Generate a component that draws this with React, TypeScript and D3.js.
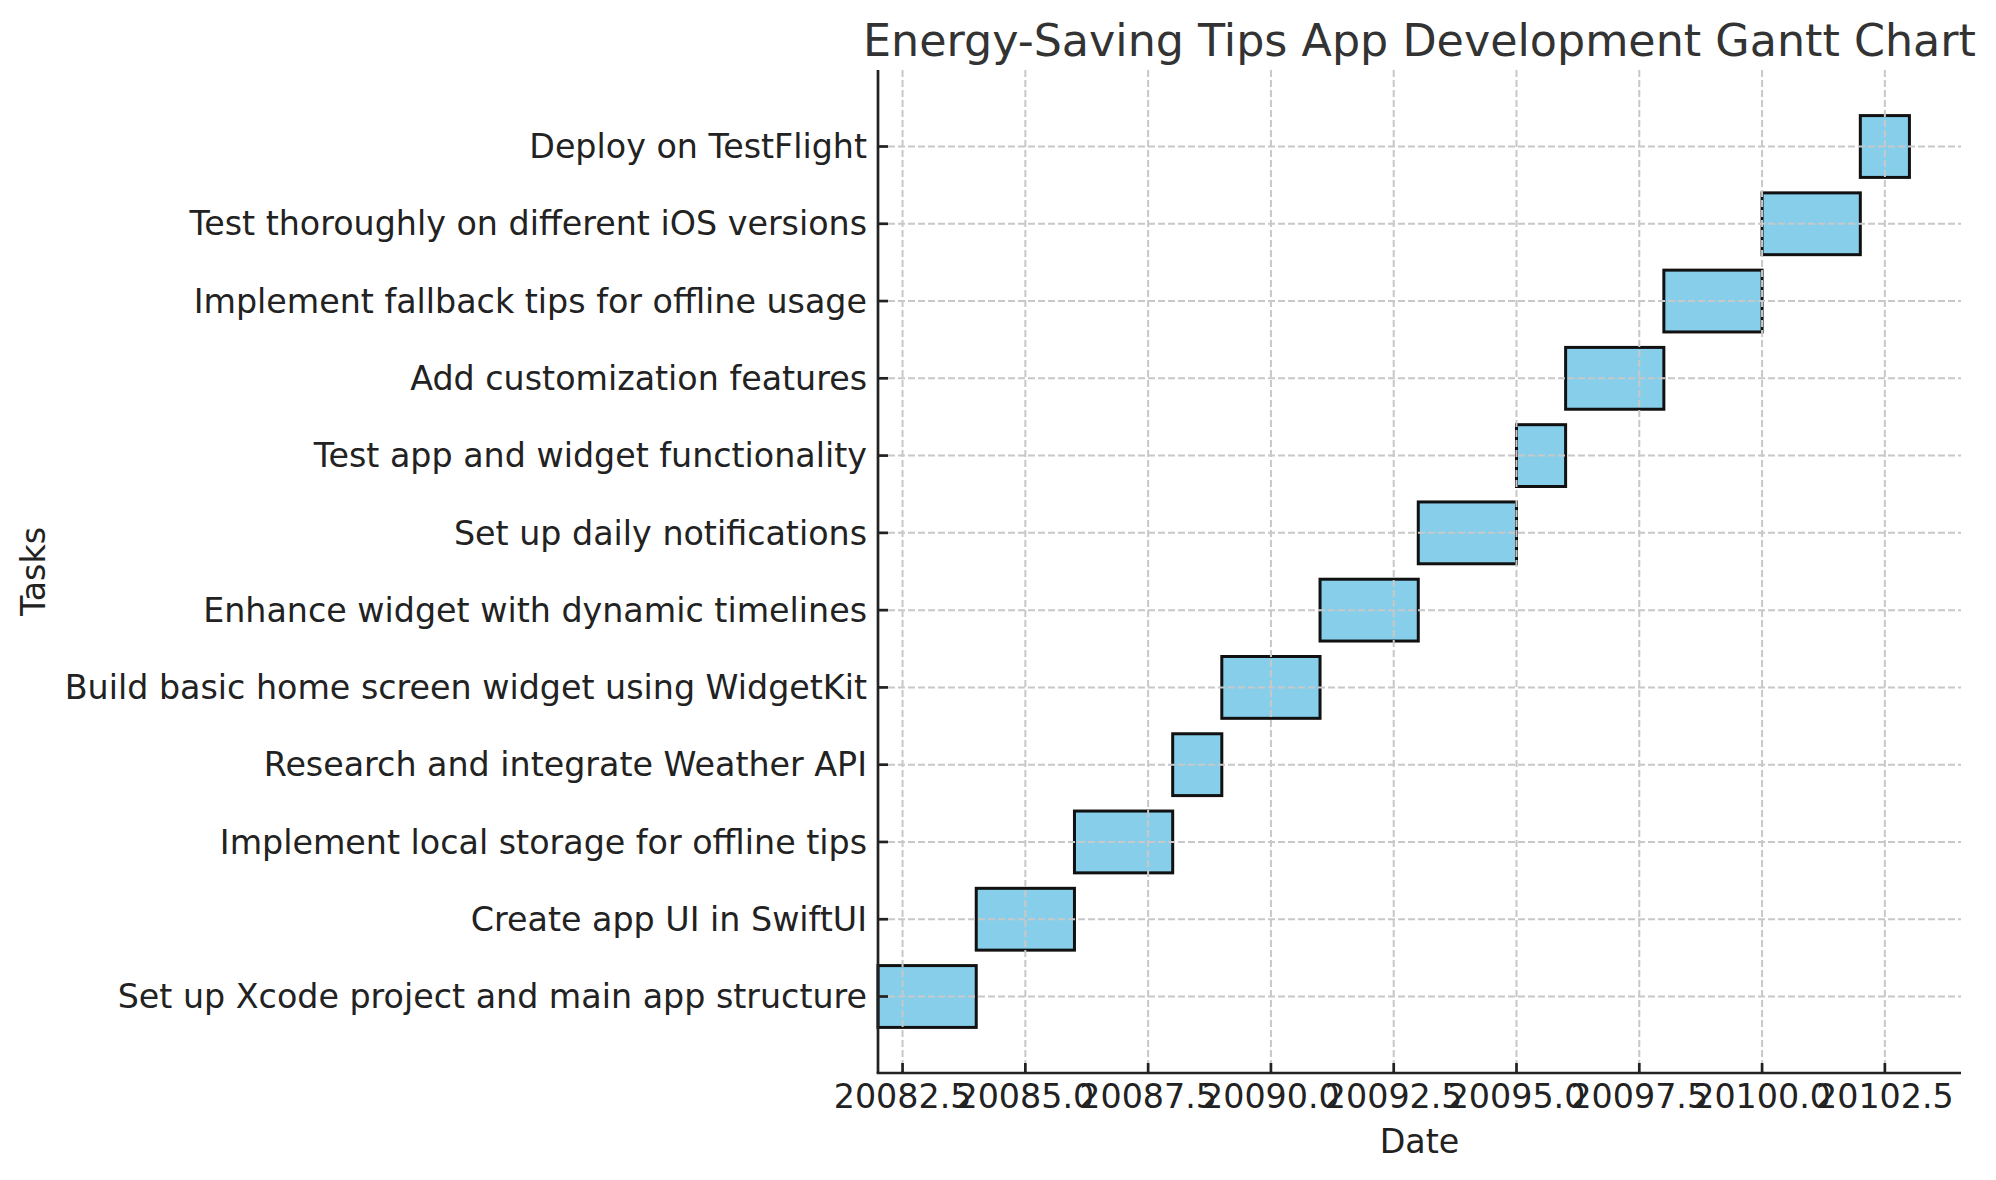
import * as d3 from "d3";

const tasks = [
  "Set up Xcode project and main app structure",
  "Create app UI in SwiftUI",
  "Implement local storage for offline tips",
  "Research and integrate Weather API",
  "Build basic home screen widget using WidgetKit",
  "Enhance widget with dynamic timelines",
  "Set up daily notifications",
  "Test app and widget functionality",
  "Add customization features",
  "Implement fallback tips for offline usage",
  "Test thoroughly on different iOS versions",
  "Deploy on TestFlight",
];
const starts = [20082, 20084, 20086, 20088, 20089, 20091, 20093, 20095, 20096, 20098, 20100, 20102];
const durations = [2, 2, 2, 1, 2, 2, 2, 1, 2, 2, 2, 1];
const xTicks = [20082.5, 20085, 20087.5, 20090, 20092.5, 20095, 20097.5, 20100, 20102.5];

const W = 1996;
const H = 1180;
const margin = { top: 70, right: 35, bottom: 107, left: 878 };
const font = "'DejaVu Sans', sans-serif";
const textColor = "#222222";

export default function App() {
  const x = d3
    .scaleLinear()
    .domain([20082, 20104.05])
    .range([margin.left, W - margin.right]);
  const y = d3
    .scaleLinear()
    .domain([-0.99, 11.99])
    .range([H - margin.bottom, margin.top]);

  const barH = y(0) - y(0.8);
  const rows = d3.range(tasks.length);

  return (
    <svg
      width={W}
      height={H}
      style={{ position: "absolute", left: 0, top: 0, background: "#fff" }}
      fontFamily={font}
    >
      {/* bars */}
      {rows.map((i) => (
        <rect
          key={i}
          x={x(starts[i])}
          y={y(i + 0.4)}
          width={x(starts[i] + durations[i]) - x(starts[i])}
          height={barH}
          fill="#87CEEB"
          stroke="#111"
          strokeWidth={3}
        />
      ))}

      {/* grid (drawn over bars) */}
      {xTicks.map((t) => (
        <line
          key={"gx" + t}
          x1={x(t)}
          x2={x(t)}
          y1={margin.top}
          y2={H - margin.bottom}
          stroke="#c8c8c8"
          strokeWidth={2}
          strokeDasharray="7,3"
        />
      ))}
      {rows.map((i) => (
        <line
          key={"gy" + i}
          x1={margin.left}
          x2={W - margin.right}
          y1={y(i)}
          y2={y(i)}
          stroke="#c8c8c8"
          strokeWidth={2}
          strokeDasharray="7,3"
        />
      ))}

      {/* spines */}
      <line
        x1={margin.left}
        x2={margin.left}
        y1={margin.top}
        y2={H - margin.bottom}
        stroke="#222"
        strokeWidth={2.7}
      />
      <line
        x1={margin.left - 1.35}
        x2={W - margin.right}
        y1={H - margin.bottom}
        y2={H - margin.bottom}
        stroke="#222"
        strokeWidth={2.7}
      />

      {/* x ticks */}
      {xTicks.map((t) => (
        <g key={"xt" + t}>
          <line
            x1={x(t)}
            x2={x(t)}
            y1={H - margin.bottom}
            y2={H - margin.bottom - 10}
            stroke="#222"
            strokeWidth={2.7}
          />
          <text
            x={x(t)}
            y={H - margin.bottom + 35}
            textAnchor="middle"
            fontSize={33.3}
            fill={textColor}
          >
            {t.toFixed(1)}
          </text>
        </g>
      ))}

      {/* y ticks */}
      {rows.map((i) => (
        <g key={"yt" + i}>
          <line
            x1={margin.left}
            x2={margin.left + 10}
            y1={y(i)}
            y2={y(i)}
            stroke="#222"
            strokeWidth={2.7}
          />
          <text
            x={margin.left - 11}
            y={y(i)}
            dy="0.35em"
            textAnchor="end"
            fontSize={33.3}
            fill={textColor}
          >
            {tasks[i]}
          </text>
        </g>
      ))}

      {/* axis labels */}
      <text
        x={(margin.left + W - margin.right) / 2}
        y={1153}
        textAnchor="middle"
        fontSize={33.3}
        fill={textColor}
      >
        Date
      </text>
      <text
        transform={`translate(45,${(margin.top + H - margin.bottom) / 2}) rotate(-90)`}
        textAnchor="middle"
        fontSize={33.3}
        fill={textColor}
      >
        Tasks
      </text>

      {/* title */}
      <text
        x={(margin.left + W - margin.right) / 2}
        y={56}
        textAnchor="middle"
        fontSize={44.4}
        fill="#333"
      >
        Energy-Saving Tips App Development Gantt Chart
      </text>
    </svg>
  );
}
